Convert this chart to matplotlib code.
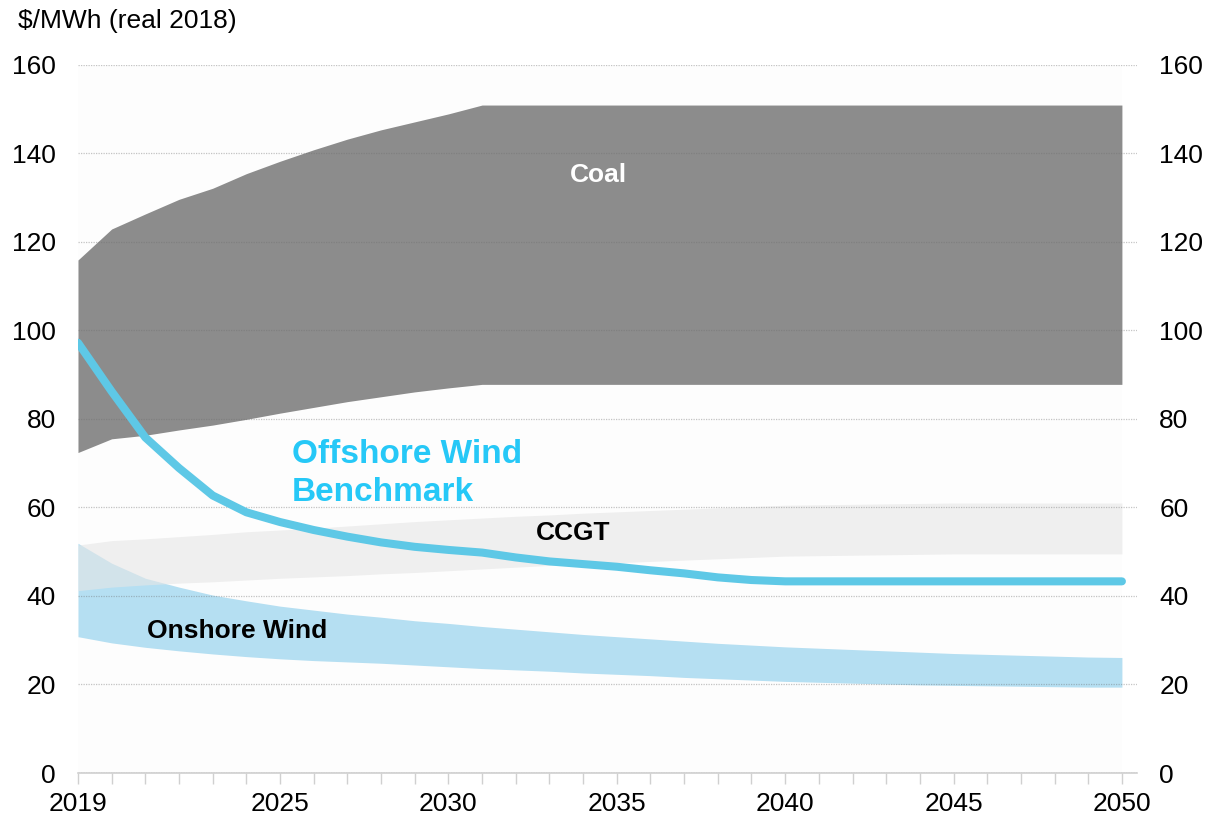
import numpy as np
import matplotlib
matplotlib.use("Agg")
import matplotlib.pyplot as plt
from matplotlib.ticker import MultipleLocator

plt.rcParams['font.family'] = ['Liberation Sans', 'DejaVu Sans']

years = np.arange(2019, 2051)

# Levelised cost ranges, $/MWh (real 2018)
coal_high = [115.9, 122.9, 126.3, 129.6, 132.1, 135.4, 138.2, 140.8, 143.2, 145.3,
             147.1, 148.9, 150.9] + [150.9] * 19
coal_low = [72.4, 75.5, 76.3, 77.5, 78.6, 79.9, 81.3, 82.6, 83.9, 85.0,
            86.1, 87.0, 87.8] + [87.8] * 19
ccgt_high = [51.5, 52.5, 52.9, 53.4, 53.9, 54.5, 54.9, 55.3, 55.8, 56.3, 56.8,
             57.2, 57.6, 58.0, 58.3, 58.7, 59.0, 59.3, 59.6, 59.9, 60.2, 60.5,
             60.6, 60.7, 60.8, 60.9, 61.0, 61.0, 61.0, 61.0, 61.0, 61.0]
ccgt_low = [41.2, 42.0, 42.5, 42.9, 43.2, 43.6, 44.0, 44.3, 44.6, 45.0, 45.3,
            45.7, 46.1, 46.5, 46.9, 47.2, 47.5, 47.8, 48.1, 48.4, 48.7, 49.0,
            49.1, 49.2, 49.3, 49.4, 49.5, 49.5, 49.5, 49.5, 49.5, 49.5]
onshore_high = [51.9, 47.4, 44.0, 42.0, 40.2, 38.9, 37.7, 36.8, 35.9, 35.2, 34.4,
                33.8, 33.1, 32.5, 31.9, 31.3, 30.8, 30.3, 29.8, 29.3, 28.9, 28.5,
                28.2, 27.9, 27.6, 27.3, 27.0, 26.8, 26.6, 26.4, 26.2, 26.1]
onshore_low = [30.8, 29.4, 28.4, 27.6, 26.9, 26.3, 25.8, 25.4, 25.1, 24.8, 24.4,
               24.0, 23.6, 23.3, 23.0, 22.6, 22.3, 22.0, 21.6, 21.3, 21.0, 20.7,
               20.5, 20.3, 20.1, 19.9, 19.8, 19.7, 19.6, 19.5, 19.4, 19.4]
offshore = [97.2, 86.2, 75.8, 68.9, 62.7, 58.9, 56.7, 54.9, 53.4, 52.1, 51.1,
            50.4, 49.8, 48.7, 47.8, 47.2, 46.6, 45.8, 45.1, 44.2, 43.6,
            43.3] + [43.3] * 10

fig = plt.figure(figsize=(12.09, 8.25), dpi=100)
ax = fig.add_axes([0.0645, 0.063, 0.876, 0.8585])

# faint plot backdrop
ax.fill_between([2019, 2050], 0, 160, color='#fdfdfd', lw=0, zorder=0)

ax.fill_between(years, coal_low, coal_high, color='#8c8c8c', lw=0, zorder=1)
ax.fill_between(years, onshore_low, onshore_high, color='#b5dff2', lw=0, zorder=1)
ax.fill_between(years, ccgt_low, ccgt_high, color='#e6e6e6', alpha=0.6, lw=0, zorder=1.2)
ax.plot(years, offshore, color='#5ec8e6', lw=5.8, solid_capstyle='round', zorder=3)

ax.text(2034.45, 135.1, 'Coal', color='white', fontsize=19, fontweight='bold',
        ha='center', va='center')
ax.text(2025.35, 67.7, 'Offshore Wind\nBenchmark', color='#26c8f7', fontsize=24,
        fontweight='bold', ha='left', va='center', linespacing=1.32)
ax.text(2033.7, 54.2, 'CCGT', color='black', fontsize=19, fontweight='bold',
        ha='center', va='center')
ax.text(2021.05, 32.1, 'Onshore Wind', color='black', fontsize=19, fontweight='bold',
        ha='left', va='center')

ax.set_xlim(2019, 2050.45)
ax.set_ylim(0, 160)
ax.set_xticks([2019, 2025, 2030, 2035, 2040, 2045, 2050])
ax.xaxis.set_minor_locator(MultipleLocator(1))
ax.set_yticks(np.arange(0, 161, 20))

ax.grid(axis='y', color='#6e6e6e', alpha=0.4, linestyle=(0, (1, 1)), lw=0.9)
ax.set_axisbelow(False)

for side in ['top', 'left', 'right']:
    ax.spines[side].set_visible(False)
ax.spines['bottom'].set_color('#d0d0d0')
ax.spines['bottom'].set_linewidth(1.2)

ax.tick_params(axis='x', which='both', direction='out', length=8, width=1,
               color='#d0d0d0', labelsize=19, pad=6)
ax.tick_params(axis='y', length=0, labelsize=19, pad=16,
               labelleft=True, labelright=True)

fig.text(0.015, 0.975, '$/MWh (real 2018)', fontsize=19, ha='left', va='center')

fig.savefig('out.png', dpi=100, facecolor='white')
